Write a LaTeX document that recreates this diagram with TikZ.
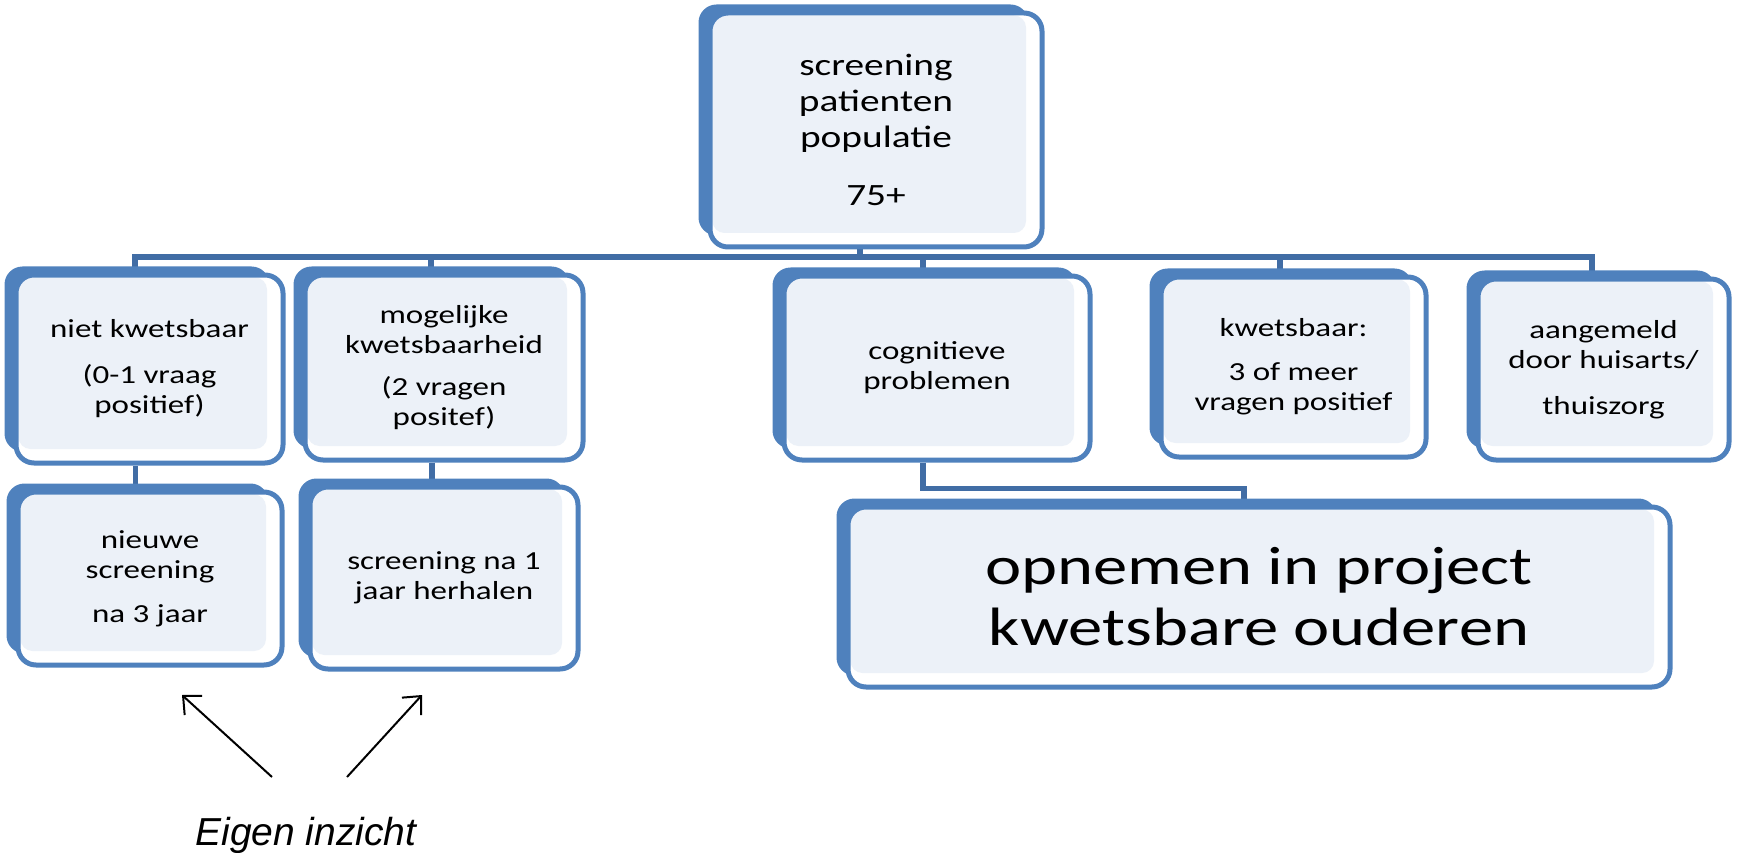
\documentclass[tikz,border=0pt]{standalone}
\usepackage{fontspec}
\setmainfont{Carlito}[FakeStretch=1.27]
\newfontfamily\labelfont{Liberation Sans}
\usetikzlibrary{arrows.meta}
\pgfdeclarelayer{background}
\pgfsetlayers{background,main}
\definecolor{boxblue}{HTML}{4F81BD}
\definecolor{boxfill}{HTML}{ECF1F8}
\definecolor{linkblue}{HTML}{416DA5}
\tikzset{
  box/.style={draw=boxblue, line width=5pt, fill=white, rounded corners=18pt,
    inner sep=0pt, align=center, text=black, font=\fontsize{26}{30}\selectfont,
    path picture={\fill[boxfill, rounded corners=12pt]
      ([shift={(2.5pt,-2.5pt)}]path picture bounding box.north west) rectangle
      ([shift={(-16pt,14pt)}]path picture bounding box.south east);}},
  conn/.style={draw=linkblue, line width=5.5pt},
  note/.style={-{Straight Barb[length=14pt,width=26pt,line width=2pt]}, line width=2pt, black}
}
\newcommand\boxshade[1]{\fill[boxblue, rounded corners=18pt]
  ([shift={(-9pt,6pt)}]#1.north west) rectangle ([shift={(-16pt,14pt)}]#1.south east);}
\begin{document}
\begin{tikzpicture}[x=1pt,y=-1pt]
\useasboundingbox (0,0) rectangle (1738,853);
% boxes
\node[box, minimum width=332pt, minimum height=234pt, font=\fontsize{31}{36}\selectfont] (top) at (876,130)
  {screening\\patienten\\populatie\\[22pt]75+};
\node[box, minimum width=267pt, minimum height=188pt] (b1) at (149.5,369)
  {niet kwetsbaar\\[16pt](0-1 vraag\\positief)};
\node[box, minimum width=278pt, minimum height=185pt] (b2) at (444,367.5)
  {mogelijke\\kwetsbaarheid\\[12pt](2 vragen\\positef)};
\node[box, minimum width=306pt, minimum height=184pt] (b3) at (937,368)
  {cognitieve\\problemen};
\node[box, minimum width=265pt, minimum height=180pt] (b4) at (1293.5,367)
  {kwetsbaar:\\[14pt]3 of meer\\vragen positief};
\node[box, minimum width=251pt, minimum height=181pt] (b5) at (1603.5,369.5)
  {aangemeld\\door huisarts/\\[16pt]thuiszorg};
\node[box, minimum width=264pt, minimum height=173pt] (c1) at (150,578.5)
  {nieuwe\\screening\\[14pt]na 3 jaar};
\node[box, minimum width=268pt, minimum height=182pt] (c2) at (444,578)
  {screening na 1\\jaar herhalen};
\node[box, minimum width=822pt, minimum height=180pt, font=\fontsize{54}{61}\selectfont] (opn) at (1259,597)
  {opnemen in project\\kwetsbare ouderen};
% connectors and shadows
\begin{pgfonlayer}{background}
\coordinate (t0) at ([xshift=-16pt]top.south);
\coordinate (s1) at ([xshift=-14.5pt]b1.north);
\coordinate (s2) at ([xshift=-13pt]b2.north);
\coordinate (s3) at ([xshift=-14pt]b3.north);
\coordinate (s4) at ([xshift=-13.5pt]b4.north);
\coordinate (s5) at ([xshift=-11.5pt]b5.north);
\coordinate (bus) at (0,257);
\draw[conn] (s1) -- (s1 |- bus) -- (s5 |- bus) -- (s5);
\draw[conn] (t0) -- (t0 |- bus);
\draw[conn] (s2) -- (s2 |- bus);
\draw[conn] (s3) -- (s3 |- bus);
\draw[conn] (s4) -- (s4 |- bus);
\coordinate (d1) at ([xshift=-14pt]b1.south);
\coordinate (d2) at ([xshift=-12pt]b2.south);
\coordinate (d3) at ([xshift=-14pt]b3.south);
\coordinate (e3) at ([xshift=-15pt]opn.north);
\draw[conn] (d1) -- (d1 |- c1.north);
\draw[conn] (d2) -- (d2 |- c2.north);
\draw[conn] (d3) -- ++(0,26) -| (e3);
\boxshade{top}
\boxshade{b1}
\boxshade{b2}
\boxshade{b3}
\boxshade{b4}
\boxshade{b5}
\boxshade{c1}
\boxshade{c2}
\boxshade{opn}
\end{pgfonlayer}
% annotation
\node[font=\labelfont\itshape\fontsize{39}{42}\selectfont, anchor=base, inner sep=0pt] (eigen) at (306,845) {Eigen inzicht};
\coordinate (a1s) at (272,777);
\coordinate (a1e) at (182,695);
\coordinate (a2s) at (347,777);
\coordinate (a2e) at (422,695);
\draw[note] (a1s) -- (a1e);
\draw[note] (a2s) -- (a2e);
\end{tikzpicture}
\end{document}
